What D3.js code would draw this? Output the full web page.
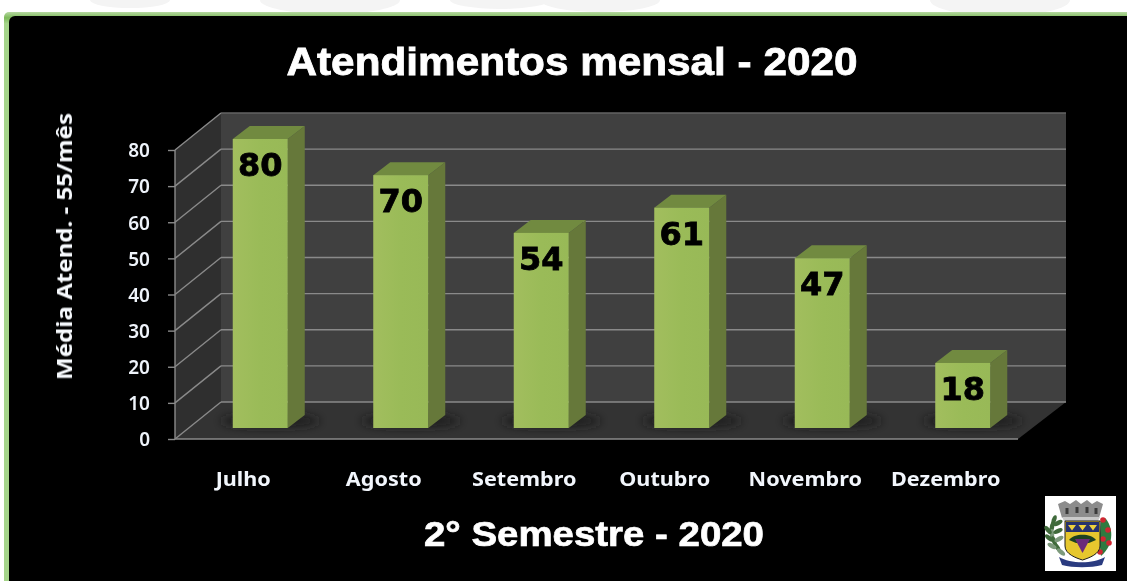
<!DOCTYPE html>
<html><head><meta charset="utf-8">
<style>html,body{margin:0;padding:0;background:#fff;overflow:hidden}svg{display:block}</style>
<script src="https://cdn.jsdelivr.net/npm/d3@7"></script></head><body>
<script>
const categories = ["Julho","Agosto","Setembro","Outubro","Novembro","Dezembro"];
const values = [80,70,54,61,47,18];
const yTicks = [0,10,20,30,40,50,60,70,80];
const chartTitle = "Atendimentos mensal - 2020";
const xTitle = "2° Semestre - 2020";
const yTitle = "Média Atend. - 55/mês";

const W=1127,H=581;
const svg=d3.select("body").append("svg").attr("width",W).attr("height",H);
const defs=svg.append("defs");
const blur=defs.append("filter").attr("id","soft").attr("x","-50%").attr("y","-300%").attr("width","200%").attr("height","700%");
blur.append("feGaussianBlur").attr("stdDeviation",5);
const soft=defs.append("filter").attr("id","aa");soft.append("feGaussianBlur").attr("stdDeviation",0.4);
const txt=defs.append("filter").attr("id","tx").attr("x","-5%").attr("y","-20%").attr("width","110%").attr("height","140%");txt.append("feGaussianBlur").attr("stdDeviation",0.3);
const lg=(id,stops,x2=0,y2=1)=>{const g=defs.append("linearGradient").attr("id",id).attr("x1",0).attr("y1",0).attr("x2",x2).attr("y2",y2);
 stops.forEach(s=>g.append("stop").attr("offset",s[0]).attr("stop-color",s[1]));};
lg("front",[[0,"#a2be5e"],[.5,"#9abb58"],[1,"#98b957"]],1,0);
lg("border",[[0,"#b5d8a0"],[.01,"#7db95a"],[.02,"#a5d48a"],[1,"#a5d48a"]]);

// page watermark and frame
const wm=svg.append("g").attr("fill","#f4f4f4");
[[330,0,70,14],[600,0,60,12],[1000,0,70,16],[500,0,50,9],[130,0,40,8]].forEach(d=>wm.append("ellipse").attr("cx",d[0]).attr("cy",d[1]).attr("rx",d[2]).attr("ry",d[3]));
svg.append("rect").attr("x",4).attr("y",12).attr("width",W).attr("height",H).attr("rx",5).attr("fill","url(#border)");
svg.append("rect").attr("x",9).attr("y",16).attr("width",W).attr("height",H+10).attr("rx",6).attr("fill","#000");

// scales: front plane of the 3D box
const y=d3.scaleLinear().domain([0,80]).range([439,150]);
const x=d3.scaleBand().domain(categories).range([175,1018]);
const depthX=46, depthY=37;          // wall depth
const barW=55, barDX=17, barDY=13;   // bar size & depth
const barShift=15, barLift=11;       // bars stand in the middle of the floor
const L=x.range()[0],R=x.range()[1];
const poly=(g,pts,fill)=>g.append("polygon").attr("points",pts.map(p=>p.join(",")).join(" ")).attr("fill",fill);

const box=svg.append("g");
poly(box,[[L,y(80)],[L+depthX,y(80)-depthY],[L+depthX,y(0)-depthY],[L,y(0)]],"#2f2f2f");
poly(box,[[L+depthX,y(80)-depthY],[R+depthX+2,y(80)-depthY],[R+depthX+2,y(0)-depthY],[L+depthX,y(0)-depthY]],"#404040");
poly(box,[[L,y(0)],[L+depthX,y(0)-depthY],[R+depthX+2,y(0)-depthY],[R,y(0)]],"#333333");

// bar shadows on the floor
const barLeft=c=>x(c)+x.bandwidth()/2-barW/2+barShift;
svg.append("g").selectAll("ellipse").data(categories).join("ellipse")
 .attr("cx",c=>barLeft(c)+barW/2+10).attr("cy",y(0)-barLift-7).attr("rx",barW/2+22).attr("ry",6)
 .attr("fill","#1a1a1a").attr("filter","url(#soft)");

const grid=svg.append("g").attr("stroke","#8a8a8a").attr("stroke-width",1.4).attr("fill","none");
yTicks.forEach(t=>{
  grid.append("path").attr("d",`M${L},${y(t)}L${L+depthX},${y(t)-depthY}`);
  grid.append("path").attr("d",`M${L+depthX},${y(t)-depthY}H${R+depthX+2}`).attr("stroke",t===80?"#636363":"#8a8a8a");
});
grid.append("path").attr("d",`M${L},${y(80)}V${y(0)}H${R}`);

// axis
const axis=d3.axisLeft(y).tickValues(yTicks).tickSize(7).tickPadding(18);
const ag=svg.append("g").attr("transform",`translate(${L},0)`).call(axis);
ag.select(".domain").remove();
ag.selectAll("line").attr("stroke","#8a8a8a").attr("stroke-width",1.4);
ag.selectAll("text").attr("x",-25).attr("fill","#eef3fa").attr("font-family","Noto Sans, sans-serif").attr("font-weight",600).attr("font-size",19).attr("dy","0.36em").attr("filter","url(#tx)");

// bars
const bars=svg.append("g").selectAll("g").data(categories).join("g");
bars.each(function(c,i){
  const g=d3.select(this), v=values[i];
  const x0=barLeft(c), base=y(0)-barLift, top=y(0)-barLift-(y(0)-y(v));
  poly(g,[[x0+barW,top],[x0+barW+barDX,top-barDY],[x0+barW+barDX,base-barDY],[x0+barW,base]],"#66783a");
  poly(g,[[x0,top],[x0+barDX,top-barDY],[x0+barW+barDX,top-barDY],[x0+barW,top]],"#718a40");
  g.append("rect").attr("x",x0).attr("y",top).attr("width",barW).attr("height",base-top).attr("fill","url(#front)");
  g.append("text").attr("x",x0+barW/2).attr("y",top+37).attr("text-anchor","middle")
   .attr("font-family","DejaVu Sans, sans-serif").attr("font-weight",700).attr("font-size",32).attr("fill","#000")
   .attr("stroke","#000").attr("stroke-width",.8).attr("filter","url(#tx)").text(v);
});

// category labels
const cats=svg.append("g").selectAll("text").data(categories).join("text")
 .attr("x",(c,i)=>x(c)+x.bandwidth()/2-2).attr("y",486).attr("text-anchor","middle")
 .attr("font-family","Noto Sans, sans-serif").attr("font-weight",700).attr("font-size",20).attr("fill","#f2f6fc").attr("filter","url(#tx)").text(c=>c);
cats.each(function(){const l=this.getComputedTextLength();d3.select(this).attr("textLength",l*1.08).attr("lengthAdjust","spacingAndGlyphs");});

// titles
svg.append("text").attr("x",572).attr("y",75).attr("text-anchor","middle").attr("font-family","Liberation Sans, sans-serif")
 .attr("font-weight",700).attr("font-size",39).attr("fill","#fff").attr("stroke","#fff").attr("stroke-width",.8)
 .attr("textLength",571).attr("lengthAdjust","spacingAndGlyphs").attr("filter","url(#tx)").text(chartTitle);
svg.append("text").attr("x",594).attr("y",546).attr("text-anchor","middle").attr("font-family","Liberation Sans, sans-serif")
 .attr("font-weight",700).attr("font-size",35).attr("fill","#fff").attr("stroke","#fff").attr("stroke-width",.7)
 .attr("textLength",340).attr("lengthAdjust","spacingAndGlyphs").attr("filter","url(#tx)").text(xTitle);
svg.append("text").attr("transform","translate(72,246.5) rotate(-90)").attr("text-anchor","middle").attr("font-family","Noto Sans, sans-serif")
 .attr("font-weight",700).attr("font-size",22).attr("fill","#f6f9fd").attr("textLength",267).attr("lengthAdjust","spacingAndGlyphs").attr("filter","url(#tx)").text(yTitle);

// municipal crest
const cr=svg.append("g").attr("transform","translate(1045,496)").attr("filter","url(#aa)");
cr.append("rect").attr("width",71).attr("height",75).attr("fill","#fff");
cr.append("path").attr("d","M13,8l7,-3 5,3 6,-4 5,4 6,-4 5,4 5,-3 6,3 -4,14H17Z").attr("fill","#8c8c8c");
[[22,12],[32,11],[42,11],[51,12]].forEach(p=>cr.append("rect").attr("x",p[0]-1.5).attr("y",p[1]).attr("width",3).attr("height",6).attr("fill","#3a3a3a"));
cr.append("path").attr("d","M17,21H55L53,25H19Z").attr("fill","#c9c9c9");
const leaf=(px,py,rot,col)=>cr.append("ellipse").attr("rx",5).attr("ry",2.2).attr("fill",col).attr("transform",`translate(${px},${py}) rotate(${rot})`);
[[9,24,-70],[7,31,-80],[7,38,-95],[9,45,-110],[12,51,-125],[16,56,-140],[13,27,-30],[13,35,-25],[14,43,-30],[3,34,-130],[4,42,-140],[7,50,-150]]
 .forEach((d,i)=>leaf(d[0],d[1],d[2],i%3===2?"#7d9a7b":"#3f6b3a"));
cr.append("path").attr("d","M60,22C68,30 70,48 56,60C54,50 55,34 56,22Z").attr("fill","#2f7a3f");
[[58,24],[63,34],[58,43],[64,47],[55,56]].forEach(p=>cr.append("circle").attr("cx",p[0]).attr("cy",p[1]).attr("r",2.8).attr("fill","#d02730"));
cr.append("path").attr("d","M20,25H55V50C55,58 44,62 37.5,64C31,62 20,58 20,50Z").attr("fill","#e6c72e").attr("stroke","#1c1c1c").attr("stroke-width",1);
cr.append("rect").attr("x",21).attr("y",26).attr("width",33).attr("height",10).attr("fill","#27306e");
[[27,31],[37.5,31],[48,31]].forEach(p=>cr.append("path").attr("d",`M${p[0]-4},${p[1]-2}L${p[0]},${p[1]+3.5}L${p[0]+4},${p[1]-2}Z`).attr("fill","#efd23e"));
cr.append("path").attr("d","M24,44C29,37 46,37 51,44L44,47H31Z").attr("fill","#1f4320");
cr.append("path").attr("d","M30,43H45L37.5,57Z").attr("fill","#6b2c7a");
cr.append("path").attr("d","M14,61C26,68 48,68 60,61L57,69C46,72 28,72 17,69Z").attr("fill","#2b3a80");
</script></body></html>
